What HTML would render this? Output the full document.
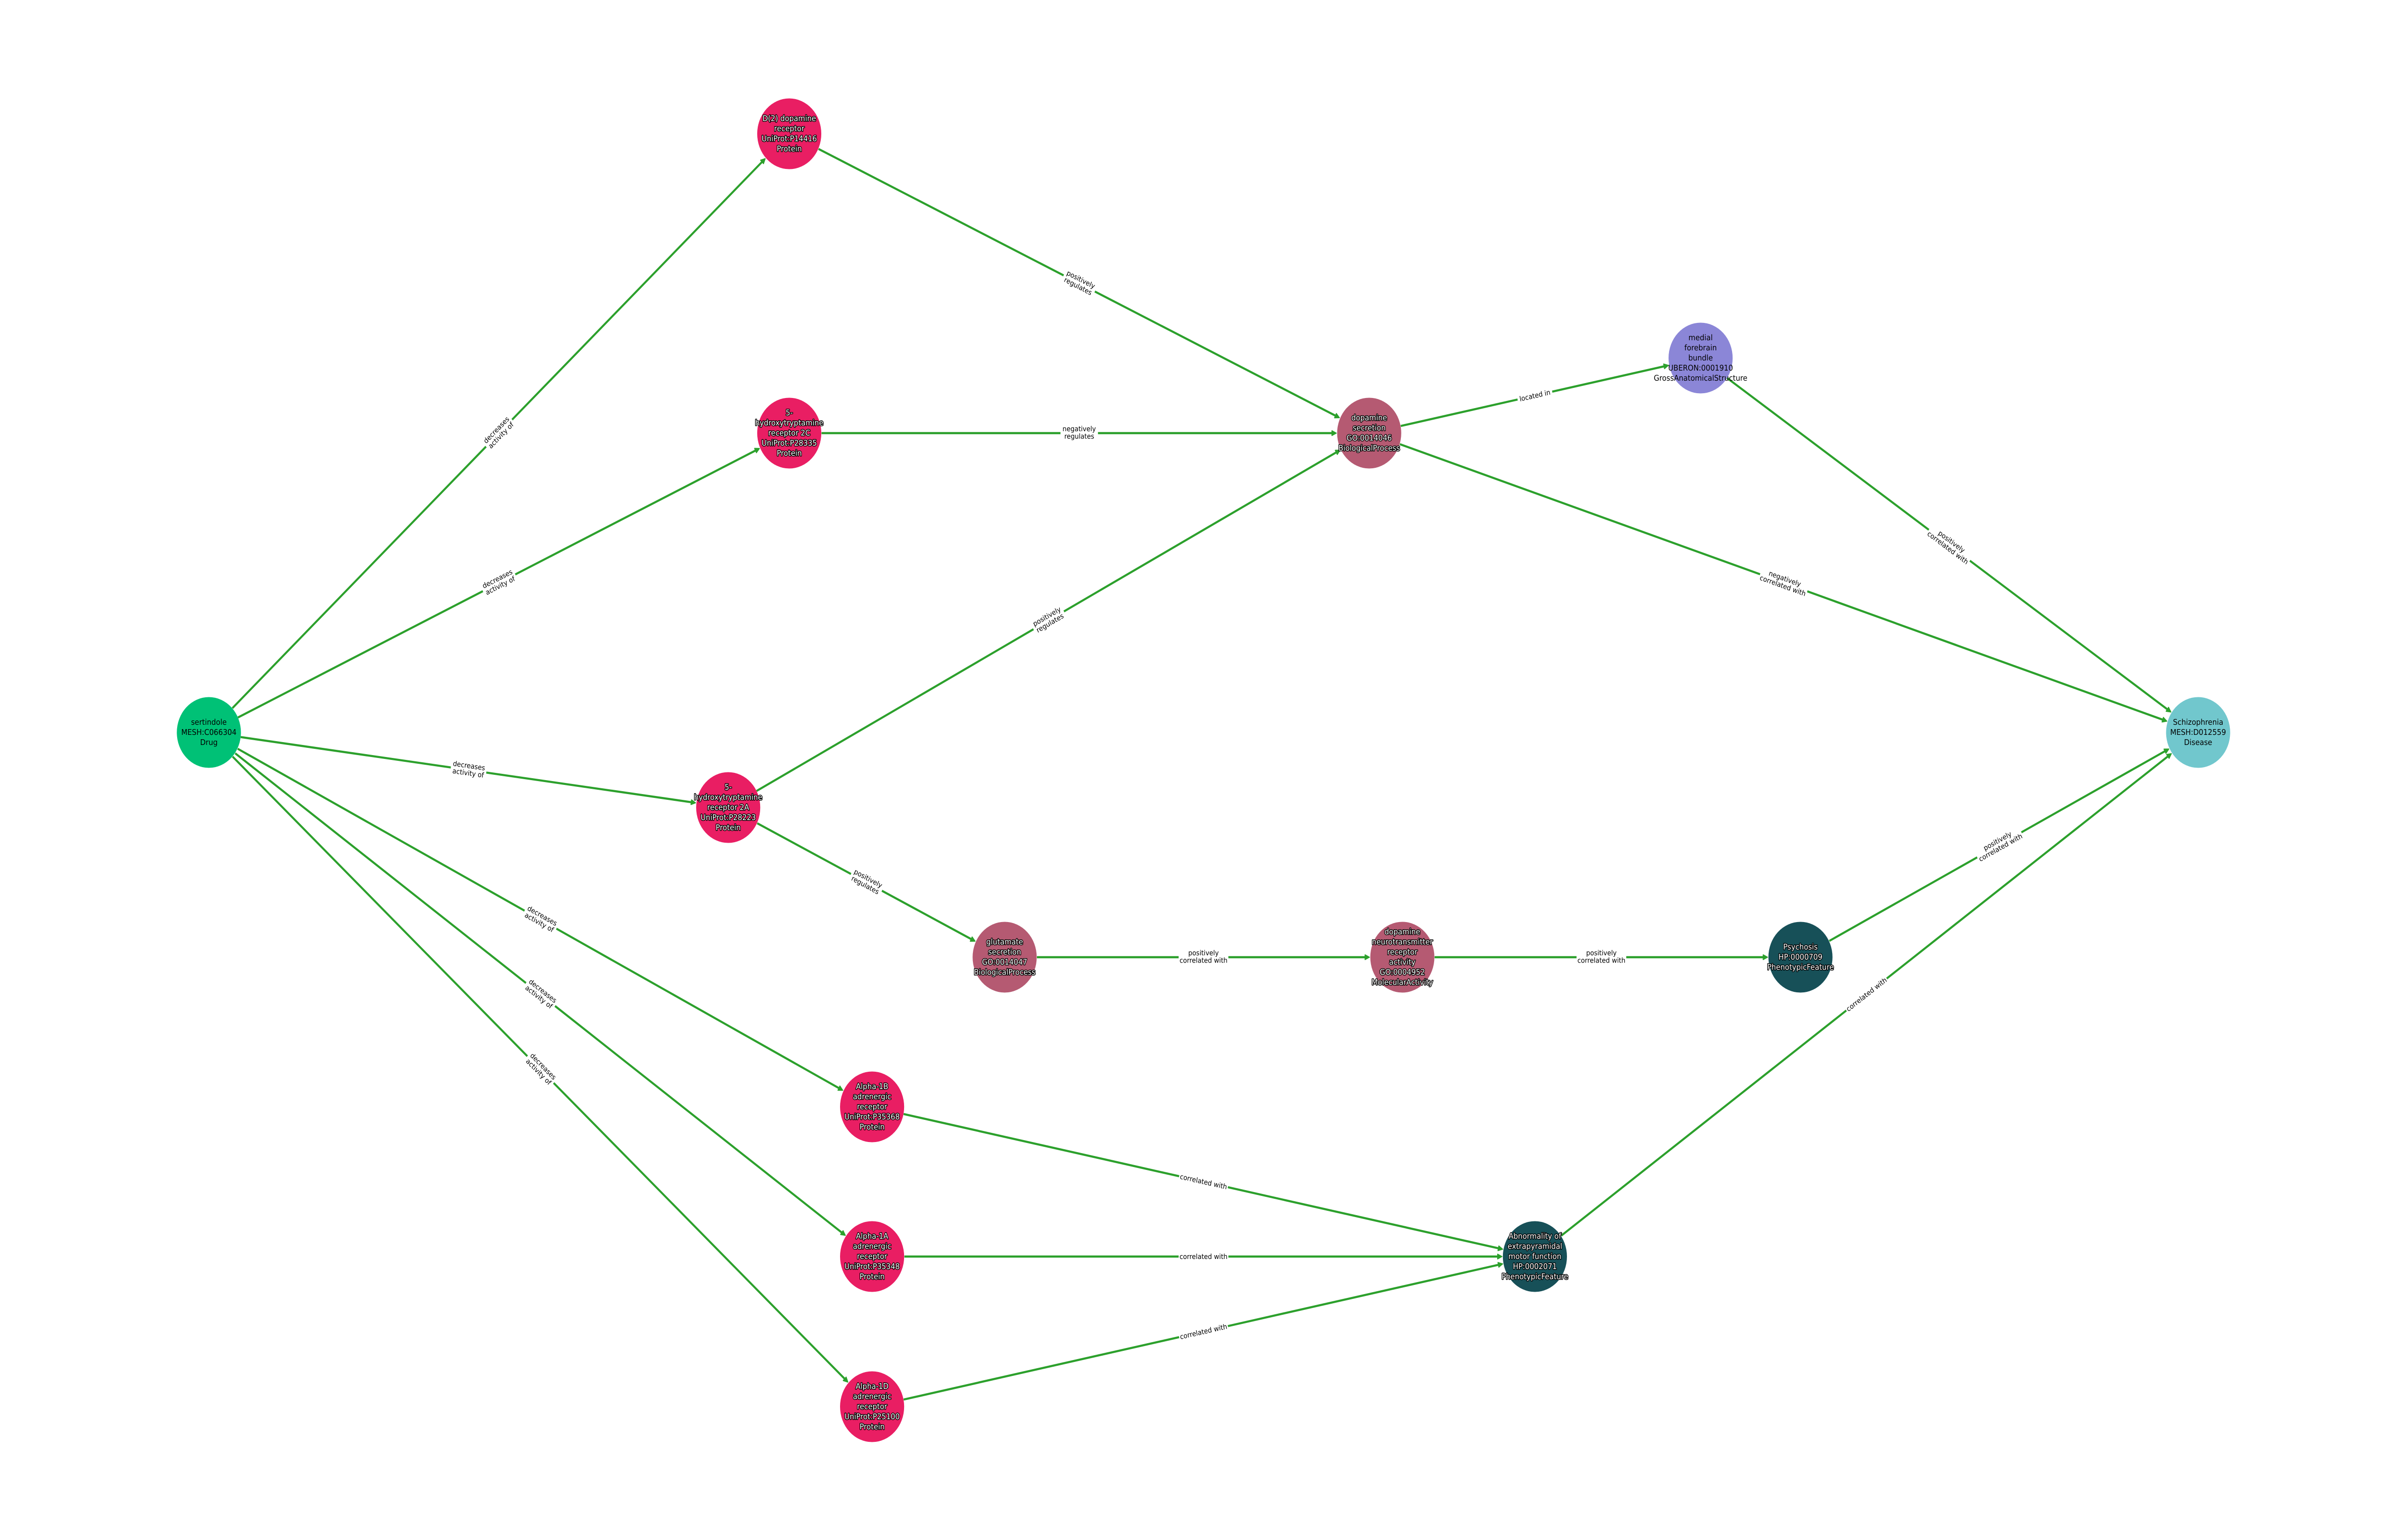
<!DOCTYPE html>
<html><head><meta charset="utf-8"><title>sertindole to Schizophrenia</title>
<style>
html,body{margin:0;padding:0;background:#fff;width:100vw;height:100vh;overflow:hidden}
svg{display:block;width:100vw;height:100vh}
text{font-family:"DejaVu Sans","Liberation Sans",sans-serif;text-anchor:middle;text-rendering:geometricPrecision}
.e line{stroke:#2ca02c;stroke-width:4.4}
.e use{fill:#2ca02c;stroke:#2ca02c;stroke-width:2;stroke-linejoin:round}
.e rect{fill:#fff}
.e text{font-size:14.6px;fill:#000}
.n text{font-size:16.4px;fill:#000}
.n text.h{fill:#fff;stroke:#000;stroke-width:3px;paint-order:stroke;stroke-linejoin:round}
</style></head><body>
<svg xmlns="http://www.w3.org/2000/svg" viewBox="0 0 5520 3200" preserveAspectRatio="none">
<rect width="5520" height="3200" fill="#fff"/>
<defs><path id="a" d="M-11,-5L-1,0L-11,5z"/></defs>
<g class="e">
<g transform="translate(1144.5,900) rotate(-43.06)"><line x1="-837" x2="830" y1="0" y2="0"/><use href="#a" x="836.4"/><rect x="-41" y="-20" width="82" height="40"/><text y="-4">decreases</text><text y="11.3">activity of</text></g>
<g transform="translate(1144.5,1211) rotate(-25.05)"><line x1="-661" x2="654" y1="0" y2="0"/><use href="#a" x="660.1"/><rect x="-41" y="-20" width="82" height="40"/><text y="-4">decreases</text><text y="11.3">activity of</text></g>
<g transform="translate(1074.5,1600) rotate(7.46)"><line x1="-527" x2="520" y1="0" y2="0"/><use href="#a" x="526.1"/><rect x="-41" y="-20" width="82" height="40"/><text y="-4">decreases</text><text y="11.3">activity of</text></g>
<g transform="translate(1239.5,1911) rotate(27.09)"><line x1="-780" x2="774" y1="0" y2="0"/><use href="#a" x="779.7"/><rect x="-41" y="-20" width="82" height="40"/><text y="-4">decreases</text><text y="11.3">activity of</text></g>
<g transform="translate(1239.5,2066.5) rotate(35.6)"><line x1="-861" x2="855" y1="0" y2="0"/><use href="#a" x="860.85"/><rect x="-41" y="-20" width="82" height="40"/><text y="-4">decreases</text><text y="11.3">activity of</text></g>
<g transform="translate(1239.5,2222.5) rotate(42.65)"><line x1="-960" x2="953" y1="0" y2="0"/><use href="#a" x="959.45"/><rect x="-41" y="-20" width="82" height="40"/><text y="-4">decreases</text><text y="11.3">activity of</text></g>
<g transform="translate(2475,589) rotate(25.06)"><line x1="-660" x2="654" y1="0" y2="0"/><use href="#a" x="659.65"/><rect x="-39.5" y="-20" width="79" height="40"/><text y="-4">positively</text><text y="11.3">regulates</text></g>
<g transform="translate(2475,900)"><line x1="-591" x2="585" y1="0" y2="0"/><use href="#a" x="590.5"/><rect x="-43" y="-20" width="86" height="40"/><text y="-4">negatively</text><text y="11.3">regulates</text></g>
<g transform="translate(2405,1289) rotate(-27.89)"><line x1="-758" x2="751" y1="0" y2="0"/><use href="#a" x="757.1"/><rect x="-39.5" y="-20" width="79" height="40"/><text y="-4">positively</text><text y="11.3">regulates</text></g>
<g transform="translate(1987,1833.5) rotate(26.13)"><line x1="-279" x2="273" y1="0" y2="0"/><use href="#a" x="278.6"/><rect x="-39.5" y="-20" width="79" height="40"/><text y="-4">positively</text><text y="11.3">regulates</text></g>
<g transform="translate(2760,1989)"><line x1="-382" x2="376" y1="0" y2="0"/><use href="#a" x="381.5"/><rect x="-57" y="-20" width="114" height="40"/><text y="-4">positively</text><text y="11.3">correlated with</text></g>
<g transform="translate(3672.5,1989)"><line x1="-382.5" x2="376" y1="0" y2="0"/><use href="#a" x="382"/><rect x="-57" y="-20" width="114" height="40"/><text y="-4">positively</text><text y="11.3">correlated with</text></g>
<g transform="translate(4585,1755.5) rotate(-27.12)"><line x1="-438" x2="432" y1="0" y2="0"/><use href="#a" x="437.8"/><rect x="-57" y="-20" width="114" height="40"/><text y="-4">positively</text><text y="11.3">correlated with</text></g>
<g transform="translate(3520,822) rotate(-11.6)"><line x1="-314" x2="308" y1="0" y2="0"/><use href="#a" x="313.4"/><rect x="-40.5" y="-13" width="81" height="26"/><text y="5">located in</text></g>
<g transform="translate(4090.5,1211) rotate(18.12)"><line x1="-926" x2="920" y1="0" y2="0"/><use href="#a" x="925.6"/><rect x="-57" y="-20" width="114" height="40"/><text y="-4">negatively</text><text y="11.3">correlated with</text></g>
<g transform="translate(4470.5,1133) rotate(34.29)"><line x1="-617" x2="610" y1="0" y2="0"/><use href="#a" x="616"/><rect x="-57" y="-20" width="114" height="40"/><text y="-4">positively</text><text y="11.3">correlated with</text></g>
<g transform="translate(2760,2455.5) rotate(11.56)"><line x1="-702" x2="695" y1="0" y2="0"/><use href="#a" x="701.25"/><rect x="-57" y="-13" width="114" height="26"/><text y="5">correlated with</text></g>
<g transform="translate(2760,2611)"><line x1="-686" x2="680" y1="0" y2="0"/><use href="#a" x="685.5"/><rect x="-57" y="-13" width="114" height="26"/><text y="5">correlated with</text></g>
<g transform="translate(2760,2767) rotate(-11.6)"><line x1="-702" x2="695" y1="0" y2="0"/><use href="#a" x="701.35"/><rect x="-57" y="-13" width="114" height="26"/><text y="5">correlated with</text></g>
<g transform="translate(4280.5,2066.5) rotate(-35.6)"><line x1="-861" x2="855" y1="0" y2="0"/><use href="#a" x="860.85"/><rect x="-57" y="-13" width="114" height="26"/><text y="5">correlated with</text></g>
</g>
<g class="n">
<circle cx="479" cy="1522" r="73.5" fill="#00c176"/>
<circle cx="1810" cy="278" r="73.5" fill="#e91e63"/>
<circle cx="1810" cy="900" r="73.5" fill="#e91e63"/>
<circle cx="1670" cy="1678" r="73.5" fill="#e91e63"/>
<circle cx="2000" cy="2300" r="73.5" fill="#e91e63"/>
<circle cx="2000" cy="2611" r="73.5" fill="#e91e63"/>
<circle cx="2000" cy="2923" r="73.5" fill="#e91e63"/>
<circle cx="3140" cy="900" r="73.5" fill="#b55a72"/>
<circle cx="2304" cy="1989" r="73.5" fill="#b55a72"/>
<circle cx="3216" cy="1989" r="73.5" fill="#b55a72"/>
<circle cx="3900" cy="744" r="73.5" fill="#8b86d7"/>
<circle cx="4129" cy="1989" r="73.5" fill="#175058"/>
<circle cx="3520" cy="2611" r="73.5" fill="#175058"/>
<circle cx="5041" cy="1522" r="73.5" fill="#71c7cd"/>
<text y="1506"><tspan x="479">sertindole</tspan><tspan x="479" dy="21">MESH:C066304</tspan><tspan x="479" dy="21">Drug</tspan></text>
<text class="h" y="251.5"><tspan x="1810">D(2) dopamine</tspan><tspan x="1810" dy="21">receptor</tspan><tspan x="1810" dy="21">UniProt:P14416</tspan><tspan x="1810" dy="21">Protein</tspan></text>
<text class="h" y="863"><tspan x="1810">5-</tspan><tspan x="1810" dy="21">hydroxytryptamine</tspan><tspan x="1810" dy="21">receptor 2C</tspan><tspan x="1810" dy="21">UniProt:P28335</tspan><tspan x="1810" dy="21">Protein</tspan></text>
<text class="h" y="1641"><tspan x="1670">5-</tspan><tspan x="1670" dy="21">hydroxytryptamine</tspan><tspan x="1670" dy="21">receptor 2A</tspan><tspan x="1670" dy="21">UniProt:P28223</tspan><tspan x="1670" dy="21">Protein</tspan></text>
<text class="h" y="2263"><tspan x="2000">Alpha-1B</tspan><tspan x="2000" dy="21">adrenergic</tspan><tspan x="2000" dy="21">receptor</tspan><tspan x="2000" dy="21">UniProt:P35368</tspan><tspan x="2000" dy="21">Protein</tspan></text>
<text class="h" y="2574"><tspan x="2000">Alpha-1A</tspan><tspan x="2000" dy="21">adrenergic</tspan><tspan x="2000" dy="21">receptor</tspan><tspan x="2000" dy="21">UniProt:P35348</tspan><tspan x="2000" dy="21">Protein</tspan></text>
<text class="h" y="2886"><tspan x="2000">Alpha-1D</tspan><tspan x="2000" dy="21">adrenergic</tspan><tspan x="2000" dy="21">receptor</tspan><tspan x="2000" dy="21">UniProt:P25100</tspan><tspan x="2000" dy="21">Protein</tspan></text>
<text class="h" y="873.5"><tspan x="3140">dopamine</tspan><tspan x="3140" dy="21">secretion</tspan><tspan x="3140" dy="21">GO:0014046</tspan><tspan x="3140" dy="21">BiologicalProcess</tspan></text>
<text class="h" y="1962.5"><tspan x="2304">glutamate</tspan><tspan x="2304" dy="21">secretion</tspan><tspan x="2304" dy="21">GO:0014047</tspan><tspan x="2304" dy="21">BiologicalProcess</tspan></text>
<text class="h" y="1941.5"><tspan x="3216">dopamine</tspan><tspan x="3216" dy="21">neurotransmitter</tspan><tspan x="3216" dy="21">receptor</tspan><tspan x="3216" dy="21">activity</tspan><tspan x="3216" dy="21">GO:0004952</tspan><tspan x="3216" dy="21">MolecularActivity</tspan></text>
<text y="707"><tspan x="3900">medial</tspan><tspan x="3900" dy="21">forebrain</tspan><tspan x="3900" dy="21">bundle</tspan><tspan x="3900" dy="21">UBERON:0001910</tspan><tspan x="3900" dy="21">GrossAnatomicalStructure</tspan></text>
<text class="h" y="1973"><tspan x="4129">Psychosis</tspan><tspan x="4129" dy="21">HP:0000709</tspan><tspan x="4129" dy="21">PhenotypicFeature</tspan></text>
<text class="h" y="2574"><tspan x="3520">Abnormality of</tspan><tspan x="3520" dy="21">extrapyramidal</tspan><tspan x="3520" dy="21">motor function</tspan><tspan x="3520" dy="21">HP:0002071</tspan><tspan x="3520" dy="21">PhenotypicFeature</tspan></text>
<text y="1506"><tspan x="5041">Schizophrenia</tspan><tspan x="5041" dy="21">MESH:D012559</tspan><tspan x="5041" dy="21">Disease</tspan></text>
</g>
</svg>
</body></html>
